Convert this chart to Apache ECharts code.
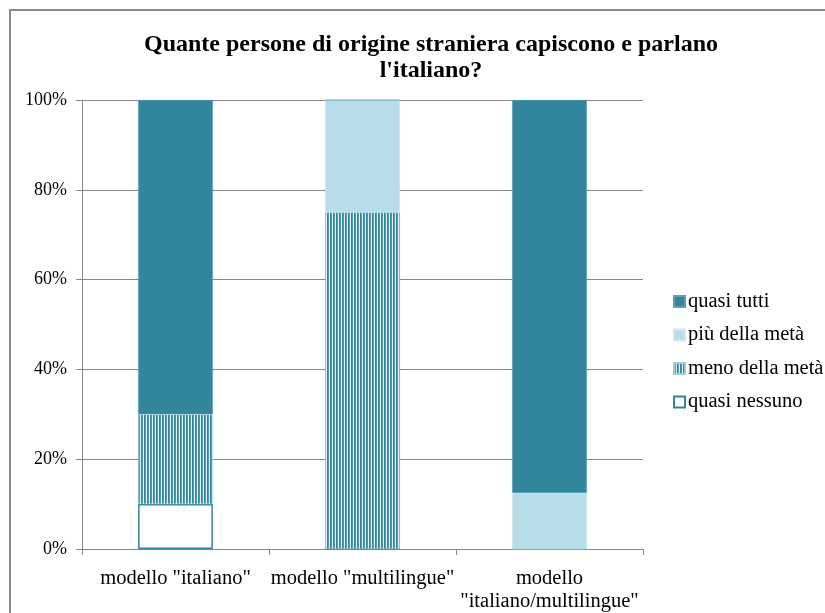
<!DOCTYPE html>
<html>
<head>
<meta charset="utf-8">
<script src="https://cdn.jsdelivr.net/npm/echarts@6/dist/echarts.min.js"></script>
<style>
  body { margin: 0; background: #fff; }
  #chart { width: 825px; height: 613px; }
</style>
</head>
<body>
<div id="chart"></div>
<script>
const categories = ['modello "italiano"', 'modello "multilingue"', 'modello\n"italiano/multilingue"']
const quasiNessuno = [10, 0, 0]
const menoDellaMeta = [20, 75, 0]
const piuDellaMeta = [0, 25, 12.5]
const quasiTutti = [70, 0, 87.5]
const yTicks = [0, 20, 40, 60, 80, 100]

const teal = '#31859C'
const light = '#B7DEE8'
const font = '"Liberation Serif", "Times New Roman", serif'

// vertical stripe pattern for "meno della metà"
const stripe = document.createElement('canvas')
stripe.width = 3
stripe.height = 8
const ctx = stripe.getContext('2d')
ctx.fillStyle = '#e6f3f6'
ctx.fillRect(0, 0, 3, 8)
ctx.fillStyle = teal
ctx.fillRect(0, 0, 1.8, 8)

const chart = echarts.init(document.getElementById('chart'))

const barBase = { type: 'bar', stack: 'tot', barWidth: '40%' }

chart.setOption({
  animation: false,
  title: {
    text: "Quante persone di origine straniera capiscono e parlano\nl'italiano?",
    left: 426,
    top: 27,
    textAlign: 'center',
    textStyle: { fontFamily: font, fontSize: 24, fontWeight: 'bold', color: '#000', lineHeight: 26 }
  },
  graphic: [{
    type: 'rect',
    shape: { x: 10, y: 10, width: 830, height: 620 },
    style: { fill: 'none', stroke: '#8a8a8a', lineWidth: 2 },
    silent: true
  }],
  legend: {
    orient: 'vertical',
    left: 668,
    top: 286,
    itemGap: 12.5,
    itemWidth: 11,
    itemHeight: 11,
    icon: 'rect',
    data: ['quasi tutti', 'più della metà', 'meno della metà', 'quasi nessuno'],
    textStyle: { fontFamily: font, fontSize: 20.5, color: '#000', padding: [0, 0, 0, -2] }
  },
  grid: { left: 82, right: 182, top: 100, bottom: 63 },
  xAxis: {
    type: 'category',
    data: categories,
    axisLine: { lineStyle: { color: '#868686', width: 1 } },
    axisTick: { show: true, length: 6, lineStyle: { color: '#868686' } },
    axisLabel: { fontFamily: font, fontSize: 20.5, color: '#000', margin: 18, lineHeight: 23, interval: 0 }
  },
  yAxis: {
    type: 'value',
    min: 0,
    max: 100,
    interval: 20,
    axisLine: { show: true, lineStyle: { color: '#868686' } },
    axisTick: { show: true, length: 6, lineStyle: { color: '#868686' } },
    splitLine: { lineStyle: { color: '#868686', width: 1 } },
    axisLabel: {
      fontFamily: font, fontSize: 18, color: '#000', margin: 15,
      formatter: v => yTicks.includes(v) ? v + '%' : ''
    }
  },
  series: [
    Object.assign({}, barBase, {
      name: 'quasi nessuno',
      data: quasiNessuno,
      itemStyle: { color: '#ffffff', borderColor: teal, borderWidth: 1.5 }
    }),
    Object.assign({}, barBase, {
      name: 'meno della metà',
      data: menoDellaMeta,
      itemStyle: { color: { image: stripe, repeat: 'repeat' }, borderColor: '#9fcfdb', borderWidth: 0.5 }
    }),
    Object.assign({}, barBase, {
      name: 'più della metà',
      data: piuDellaMeta,
      itemStyle: { color: light, borderColor: '#cfe8ef', borderWidth: 0.5 }
    }),
    Object.assign({}, barBase, {
      name: 'quasi tutti',
      data: quasiTutti,
      itemStyle: { color: teal, borderColor: '#5aa3b6', borderWidth: 0.5 }
    })
  ]
})
</script>
</body>
</html>
